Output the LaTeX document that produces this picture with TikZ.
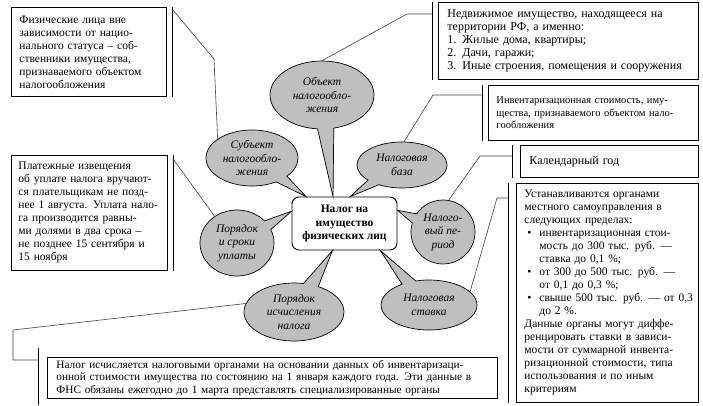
\documentclass[tikz,border=0pt]{standalone}
\usepackage{fontspec}
\setmainfont{Liberation Serif}
\usetikzlibrary{shapes.geometric, shapes.callouts}

\newcommand\jline[1]{\makebox[\linewidth][s]{#1}}
\newcommand\jlinei[1]{\hspace*{15pt}\makebox[\dimexpr\linewidth-15pt\relax][s]{#1}}
\newcommand\bitem[1]{\hspace*{3pt}\makebox[12pt][l]{\textbullet}\makebox[\dimexpr\linewidth-15pt\relax][s]{#1}}

\begin{document}
\begin{tikzpicture}[x=1pt, y=-1pt,
            txtbox/.style={draw, line width=0.9pt, fill=white, anchor=north west,
                           align=left, inner xsep=9pt, inner ysep=3pt,
                           font=\fontsize{12}{13}\selectfont},
            bub/.style={ellipse callout, draw, line width=0.7pt, fill=gray!50,
                        callout pointer arc=18, inner sep=0pt, align=center,
                        font=\fontsize{11.5}{13.5}\selectfont\itshape},
            hub/.style={draw, line width=0.9pt, rounded corners=7pt, fill=white,
                        minimum width=105pt, minimum height=53pt, align=center,
                        font=\fontsize{11.5}{13.5}\selectfont\bfseries},
            lnk/.style={line width=0.6pt, draw=black!75},
            brk/.style={line width=0.9pt}]

            \useasboundingbox (0,0) rectangle (703,406);

            %% ── Centre and bubbles ───────────────────────────────────────
            \node[hub] (tax) at (344.5,223.5) {Налог на\\имущество\\физических лиц};

            \node[bub, minimum width=104pt, minimum height=68pt,
                  callout absolute pointer={(tax.113)}] (object)  at (322,95)
                  {Объект\\налогообло-\\жения};
            \node[bub, minimum width=92pt, minimum height=56pt,
                  callout absolute pointer={(tax.145)}] (subject) at (252,158)
                  {Субъект\\налогообло-\\жения};
            \node[bub, minimum width=90pt, minimum height=46pt,
                  callout absolute pointer={(tax.78)}]  (base)    at (402,165)
                  {Налоговая\\база};
            \node[bub, minimum width=74pt, minimum height=66pt,
                  callout absolute pointer={(tax.167)}] (payment) at (237,243)
                  {Порядок\\и сроки\\уплаты};
            \node[bub, minimum width=64pt, minimum height=64pt,
                  callout absolute pointer={(tax.14)}]  (period)  at (443,232)
                  {Налого-\\вый пе-\\риод};
            \node[bub, minimum width=100pt, minimum height=58pt,
                  callout absolute pointer={(tax.246)}] (calc)    at (294,312)
                  {Порядок\\исчисления\\налога};
            \node[bub, minimum width=96pt, minimum height=50pt,
                  callout absolute pointer={(tax.323)}] (rate)    at (429,305)
                  {Налоговая\\ставка};

            %% ── Text boxes ───────────────────────────────────────────────
            \node[txtbox, inner xsep=8pt, text width=139pt, minimum height=89pt,
                  font=\fontsize{11.5}{13}\selectfont] (persons) at (11,7)
                {Физические лица вне\\
                 зависимости от нацио-\\
                 нального статуса – соб-\\
                 ственники имущества,\\
                 признаваемого объектом\\
                 налогообложения};
            \node[txtbox, text width=242pt, minimum height=77pt] (property) at (438,2)
                {\jline{Недвижимое имущество, находящееся на}\\
                 территории РФ, а именно:\\
                 1. Жилые дома, квартиры;\\
                 2. Дачи, гаражи;\\
                 3. Иные строения, помещения и сооружения};
            \node[txtbox, text width=194pt, inner xsep=8pt, minimum height=55pt,
                  font=\fontsize{10.5}{12.5}\selectfont] (value) at (488,85)
                {\jline{Инвентаризационная стоимость, иму-}\\
                 \jline{щества, признаваемого объектом нало-}\\
                 гообложения};
            \node[txtbox, text width=160pt, minimum height=32pt] (year) at (520,145)
                {Календарный год};
            \node[txtbox, inner xsep=8pt, text width=166pt, minimum height=219pt,
                  font=\fontsize{11.5}{13}\selectfont] (rates) at (516,183)
                {\jline{Устанавливаются органами}\\
                 \jline{местного самоуправления в}\\
                 следующих пределах:\\
                 \bitem{инвентаризационная стои-}\\
                 \jlinei{мость до 300 тыс. руб. —}\\
                 \hspace*{15pt}ставка до 0,1 \%;\\
                 \bitem{от 300 до 500 тыс. руб. —}\\
                 \hspace*{15pt}от 0,1 до 0,3 \%;\\
                 \bitem{свыше 500 тыс. руб. — от 0,3}\\
                 \hspace*{15pt}до 2 \%.\\
                 \jline{Данные органы могут диффе-}\\
                 \jline{ренцировать ставки в зависи-}\\
                 \jline{мости от суммарной инвента-}\\
                 \jline{ризационной стоимости, типа}\\
                 \jline{использования и по иным}\\
                 критериям};
            \node[txtbox, inner xsep=7pt, text width=142pt, minimum height=115pt,
                  font=\fontsize{11.5}{13}\selectfont] (payinfo) at (11,155)
                {Платежные извещения\\
                 об уплате налога вручают-\\
                 ся плательщикам не позд-\\
                 нее 1 августа. Уплата нало-\\
                 га производится равны-\\
                 ми долями в два срока –\\
                 не позднее 15 сентября и\\
                 15 ноября};
            \node[txtbox, text width=432pt, minimum height=41pt, inner ysep=2pt,
                  font=\fontsize{11.3}{12.5}\selectfont] (calcinfo) at (47,357)
                {\jline{Налог исчисляется налоговыми органами на основании данных об инвентаризаци-}\\
                 \jline{онной стоимости имущества по состоянию на 1 января каждого года. Эти данные в}\\
                 ФНС обязаны ежегодно до 1 марта представлять специализированные органы};

            %% ── Brackets ─────────────────────────────────────────────────
            \draw[brk] ([xshift=6pt]persons.north east)  -- ([xshift=6pt]persons.south east);
            \draw[brk] ([xshift=-6pt]property.north west) -- ([xshift=-6pt]property.south west);
            \draw[brk] ([xshift=-6pt]value.north west)    -- ([xshift=-6pt]value.south west);
            \draw[brk] ([xshift=-8pt]year.north west)     -- ([xshift=-8pt]year.south west);
            \draw[brk] ([xshift=-8pt]rates.north west)    -- ([xshift=-8pt]rates.south west);
            \draw[brk] ([xshift=6pt]payinfo.north east)  -- ([xshift=6pt]payinfo.south east);
            \draw[brk] ([xshift=-9pt, yshift=9pt]calcinfo.north west)
                    -- ([xshift=-9pt, yshift=-6pt]calcinfo.south west);

            %% ── Connectors ───────────────────────────────────────────────
            \coordinate (k1) at (214,59);
            \coordinate (k2) at (407,14);
            \coordinate (k3) at (433,95);
            \coordinate (k4) at (480,156);
            \coordinate (k5) at (497,198);
            \coordinate (k6) at (13,330);

            \draw[lnk] ([xshift=6pt, yshift=-3pt]persons.north east) -- (k1) -- (subject.151);
            \draw[lnk] ([xshift=-6pt, yshift=-12pt]property.north west) -- (k2) -- (object.north);
            \draw[lnk] ([xshift=-6pt, yshift=-10pt]value.north west) -- (k3) -- (base.85);
            \draw[lnk] ([xshift=-8pt, yshift=-11pt]year.north west) -- (k4) -- (period.80);
            \draw[lnk] ([xshift=-8pt, yshift=-15pt]rates.north west) -- (k5) -- (rate.18);
            \draw[lnk] ([xshift=6pt, yshift=-5pt]payinfo.north east) -- (payment.130);
            \draw[lnk] (calc.170) -- (k6) |- ([xshift=-9pt, yshift=-3pt]calcinfo.north west);

        \end{tikzpicture}
\end{document}
